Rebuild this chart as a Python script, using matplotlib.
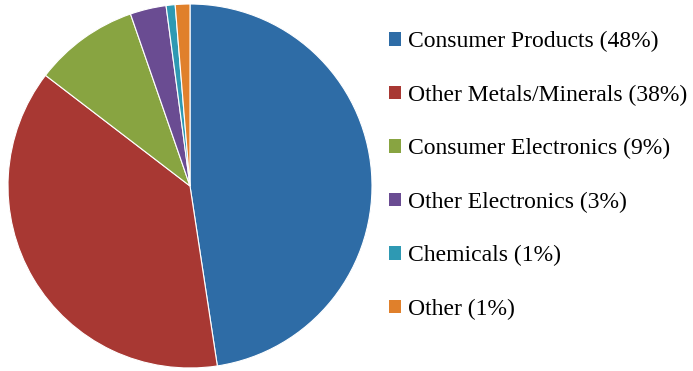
import matplotlib
matplotlib.use('Agg')
import matplotlib.pyplot as plt
from matplotlib.patches import Patch

categories = ['Consumer Products', 'Other Metals/Minerals', 'Consumer Electronics',
              'Other Electronics', 'Chemicals', 'Other']
shares = [47.6, 37.8, 9.3, 3.2, 0.8, 1.3]
pct_labels = ['48%', '38%', '9%', '3%', '1%', '1%']
colors = ['#2e6ca6', '#a83833', '#88a441', '#6a4c92', '#2e99b3', '#e0802b']

plt.rcParams['font.family'] = ['Liberation Serif', 'DejaVu Serif']

fig = plt.figure(figsize=(6.93, 3.71), dpi=100)
ax = fig.add_axes([8 / 693, 3 / 371, 364 / 693, 364 / 371])
ax.pie(shares, colors=colors, startangle=90, counterclock=False,
       wedgeprops={'edgecolor': 'white', 'linewidth': 0.8})
ax.set_xlim(-1, 1)
ax.set_ylim(-1, 1)
ax.set_aspect('equal')

handles = [Patch(facecolor=c, edgecolor='none') for c in colors]
labels = [f'{c} ({p})' for c, p in zip(categories, pct_labels)]
fig.legend(handles, labels, loc='upper left', bbox_to_anchor=(389 / 693, 1 - 31 / 371),
           frameon=False, fontsize=17, handlelength=0.5, handleheight=0.5,
           handletextpad=0.3, labelspacing=1.37, borderpad=0, borderaxespad=0)

fig.savefig('out.png', dpi=100)
